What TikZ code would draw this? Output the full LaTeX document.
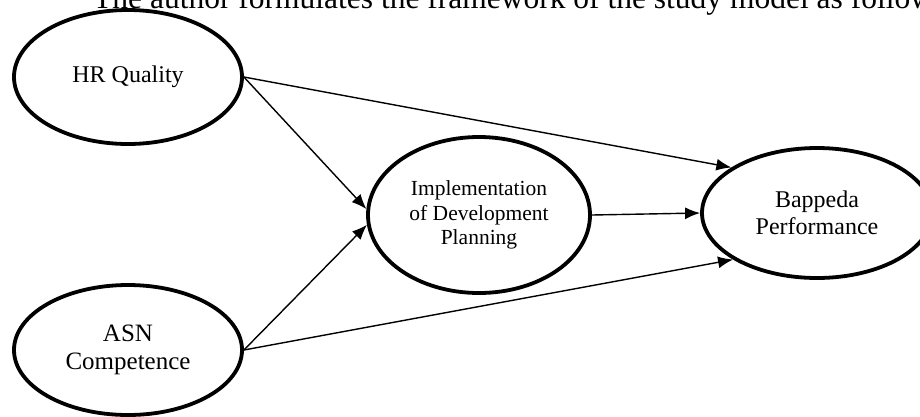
\documentclass[tikz,border=0pt]{standalone}
\usepackage{fontspec}
\setmainfont{Liberation Serif}
\usetikzlibrary{shapes.geometric,arrows.meta}
\begin{document}
\begin{tikzpicture}[x=1pt,y=-1pt,
  var/.style = {draw,ellipse,line width=3.8pt,inner sep=0pt,align=center,
                font=\fontsize{24}{27}\selectfont},
  link/.style = {line width=1.4pt,-{Latex[length=15pt,width=12pt]}}]
\useasboundingbox (0,0) rectangle (920,416);
%%Textzeile oben
\node[anchor=base west,inner sep=0pt,font=\fontsize{31.5}{35}\selectfont] (intro) at (93,8)
  {The author formulates the framework of the study model as follows:};
%%Variablen
\node[var,minimum width=228pt,minimum height=134pt] (hr) at (128,77) {HR Quality};
\node[var,minimum width=228pt,minimum height=130pt,font=\fontsize{25}{28}\selectfont] (asn) at (128,350) {ASN\\Competence};
\node[var,minimum width=222pt,minimum height=156pt,font=\fontsize{21.5}{24.5}\selectfont] (impl) at (479,215)
  {Implementation\\of Development\\Planning};
\node[var,minimum width=230pt,minimum height=130pt] (perf) at (817,213) {Bappeda\\Performance};
%%Pfeile
\draw[link] (hr.east) -- (impl.177);
\draw[link] (hr.east) -- (perf.152);
\draw[link] (asn.east) -- (impl.185);
\draw[link] (asn.east) -- (perf.209);
\draw[link] (impl.east) -- (perf.west);
\end{tikzpicture}
\end{document}
